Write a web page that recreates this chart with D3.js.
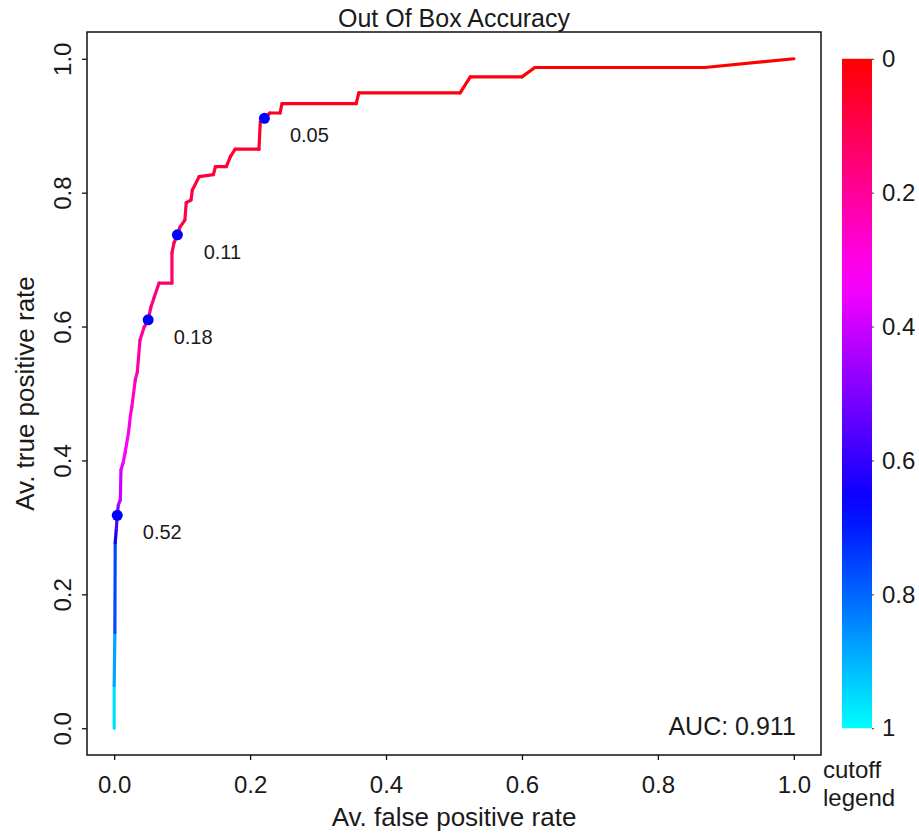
<!DOCTYPE html>
<html>
<head>
<meta charset="utf-8">
<script src="https://cdn.jsdelivr.net/npm/d3@7"></script>
<style>
  body { margin: 0; background: #fff; }
  text { font-family: "Liberation Sans", Arial, sans-serif; fill: #1a1a1a; }
</style>
</head>
<body>
<div class="roc"></div>
<script>
// roc curve points (average fpr / tpr) with the cutoff at each point
const fpr = [0, 0, 0.001, 0.0015, 0.003, 0.0045, 0.006, 0.009, 0.010, 0.013, 0.016, 0.021, 0.024, 0.026,
    0.031, 0.034, 0.038, 0.044, 0.050, 0.054, 0.059, 0.066, 0.085, 0.085, 0.088, 0.093, 0.097, 0.104,
    0.106, 0.113, 0.115, 0.125, 0.146, 0.149, 0.165, 0.171, 0.178, 0.213, 0.215, 0.221, 0.229, 0.244,
    0.247, 0.356, 0.360, 0.509, 0.524, 0.600, 0.619, 0.869, 1.0]
const tpr = [0, 0.064, 0.143, 0.277, 0.296, 0.318, 0.333, 0.341, 0.386, 0.396, 0.411, 0.441, 0.468, 0.480,
    0.520, 0.532, 0.580, 0.599, 0.610, 0.629, 0.644, 0.665, 0.665, 0.710, 0.725, 0.737, 0.749, 0.759,
    0.785, 0.789, 0.804, 0.824, 0.827, 0.839, 0.839, 0.854, 0.865, 0.865, 0.906, 0.911, 0.919, 0.919,
    0.933, 0.933, 0.949, 0.949, 0.973, 0.973, 0.987, 0.987, 1.0]
const cutoff = [1.0, 0.92, 0.84, 0.68, 0.60, 0.52, 0.46, 0.42, 0.38, 0.35, 0.33, 0.31, 0.29, 0.27,
    0.25, 0.23, 0.21, 0.19, 0.18, 0.17, 0.16, 0.15, 0.14, 0.13, 0.12, 0.11, 0.105, 0.10,
    0.095, 0.09, 0.085, 0.08, 0.075, 0.07, 0.068, 0.065, 0.062, 0.058, 0.052, 0.05, 0.047, 0.044,
    0.04, 0.032, 0.03, 0.02, 0.015, 0.01, 0.007, 0.003, 0]

// labelled cutoffs
const markLabels = ["0.52", "0.18", "0.11", "0.05"]
const markFpr = [0.0045, 0.050, 0.093, 0.221]
const markTpr = [0.318, 0.610, 0.737, 0.911]

const axisTicks = [0, 0.2, 0.4, 0.6, 0.8, 1.0]
const legendTicks = [0, 0.2, 0.4, 0.6, 0.8, 1]
const aucText = "AUC: 0.911"

const width = 919
const height = 835

const x = d3.scaleLinear().domain([-0.04, 1.04]).range([87, 821])
const y = d3.scaleLinear().domain([-0.04, 1.04]).range([755, 32])
const colorOf = c => d3.hsl(360 - 180 * c, 1, 0.5).formatHex()

const svg = d3.select(".roc")
    .append("svg")
    .attr("width", width)
    .attr("height", height)

// plot box
svg.append("rect")
    .attr("x", x(-0.04))
    .attr("y", y(1.04))
    .attr("width", x(1.04) - x(-0.04))
    .attr("height", y(-0.04) - y(1.04))
    .attr("fill", "none")
    .attr("stroke", "#111")
    .attr("stroke-width", 1.5)

const xAxis = svg.append("g")
    .attr("transform", `translate(0, ${y(-0.04)})`)
    .call(d3.axisBottom(x).tickValues(axisTicks).tickSize(5).tickFormat(d3.format(".1f")))
xAxis.select(".domain").remove()
xAxis.selectAll(".tick line").attr("stroke", "#111").attr("stroke-width", 1.3)
xAxis.selectAll(".tick text")
    .attr("font-size", 24)
    .attr("y", 38)
    .attr("dy", 0)
    .attr("fill", "#1a1a1a")

const yAxis = svg.append("g")
    .attr("transform", `translate(${x(-0.04)}, 0)`)
    .call(d3.axisLeft(y).tickValues(axisTicks).tickSize(5).tickFormat(d3.format(".1f")))
yAxis.select(".domain").remove()
yAxis.selectAll(".tick line").attr("stroke", "#111").attr("stroke-width", 1.3)
yAxis.selectAll(".tick text")
    .attr("font-size", 24)
    .attr("x", null)
    .attr("dy", 0)
    .attr("text-anchor", "middle")
    .attr("transform", "translate(-16, 0) rotate(-90)")
    .attr("fill", "#1a1a1a")

// coloured roc line, one segment per step
const segs = d3.range(fpr.length - 1).map(i => ({
    x1: fpr[i], y1: tpr[i], x2: fpr[i + 1], y2: tpr[i + 1], c: (cutoff[i] + cutoff[i + 1]) / 2
}))
svg.append("g")
    .selectAll("line")
    .data(segs)
    .join("line")
    .attr("x1", d => x(d.x1))
    .attr("y1", d => y(d.y1))
    .attr("x2", d => x(d.x2))
    .attr("y2", d => y(d.y2))
    .attr("stroke", d => colorOf(d.c))
    .attr("stroke-width", 3.2)
    .attr("stroke-linecap", "round")

const marks = markLabels.map((l, i) => ({ label: l, fx: markFpr[i], ty: markTpr[i] }))
svg.append("g")
    .selectAll("circle")
    .data(marks)
    .join("circle")
    .attr("cx", d => x(d.fx))
    .attr("cy", d => y(d.ty))
    .attr("r", 5.5)
    .attr("fill", "#0000ff")
svg.append("g")
    .selectAll("text")
    .data(marks)
    .join("text")
    .attr("x", d => x(d.fx) + 45)
    .attr("y", d => y(d.ty) + 24)
    .attr("text-anchor", "middle")
    .attr("font-size", 20)
    .text(d => d.label)

svg.append("text")
    .attr("x", x(1.0) + 2)
    .attr("y", 735)
    .attr("text-anchor", "end")
    .attr("font-size", 25)
    .text(aucText)

// titles
svg.append("text")
    .attr("x", (x(-0.04) + x(1.04)) / 2)
    .attr("y", 27)
    .attr("text-anchor", "middle")
    .attr("font-size", 25)
    .text("Out Of Box Accuracy")
svg.append("text")
    .attr("x", (x(-0.04) + x(1.04)) / 2)
    .attr("y", 826)
    .attr("text-anchor", "middle")
    .attr("font-size", 26)
    .text("Av. false positive rate")
svg.append("text")
    .attr("transform", `translate(34, ${(y(-0.04) + y(1.04)) / 2}) rotate(-90)`)
    .attr("text-anchor", "middle")
    .attr("font-size", 26)
    .text("Av. true positive rate")

// cutoff colour bar
const cy = d3.scaleLinear().domain([0, 1]).range([y(1), y(0)])
const grad = svg.append("defs").append("linearGradient")
    .attr("id", "cutgrad")
    .attr("x1", 0).attr("y1", 0).attr("x2", 0).attr("y2", 1)
grad.selectAll("stop")
    .data(d3.range(0, 1.0001, 0.05))
    .join("stop")
    .attr("offset", d => d)
    .attr("stop-color", d => colorOf(d))
svg.append("rect")
    .attr("x", 842)
    .attr("y", cy(0))
    .attr("width", 30)
    .attr("height", cy(1) - cy(0))
    .attr("fill", "url(#cutgrad)")

const legAxis = svg.append("g")
    .attr("transform", "translate(872, 0)")
    .call(d3.axisRight(cy).tickValues(legendTicks).tickSize(2).tickFormat(d => d))
legAxis.select(".domain").remove()
legAxis.selectAll(".tick line").attr("stroke", "#333")
legAxis.selectAll(".tick text")
    .attr("font-size", 24)
    .attr("x", 10)
    .attr("fill", "#1a1a1a")

svg.append("text")
    .attr("x", 823)
    .attr("y", 778)
    .attr("font-size", 24)
    .text("cutoff")
svg.append("text")
    .attr("x", 823)
    .attr("y", 806)
    .attr("font-size", 24)
    .text("legend")
</script>
</body>
</html>
